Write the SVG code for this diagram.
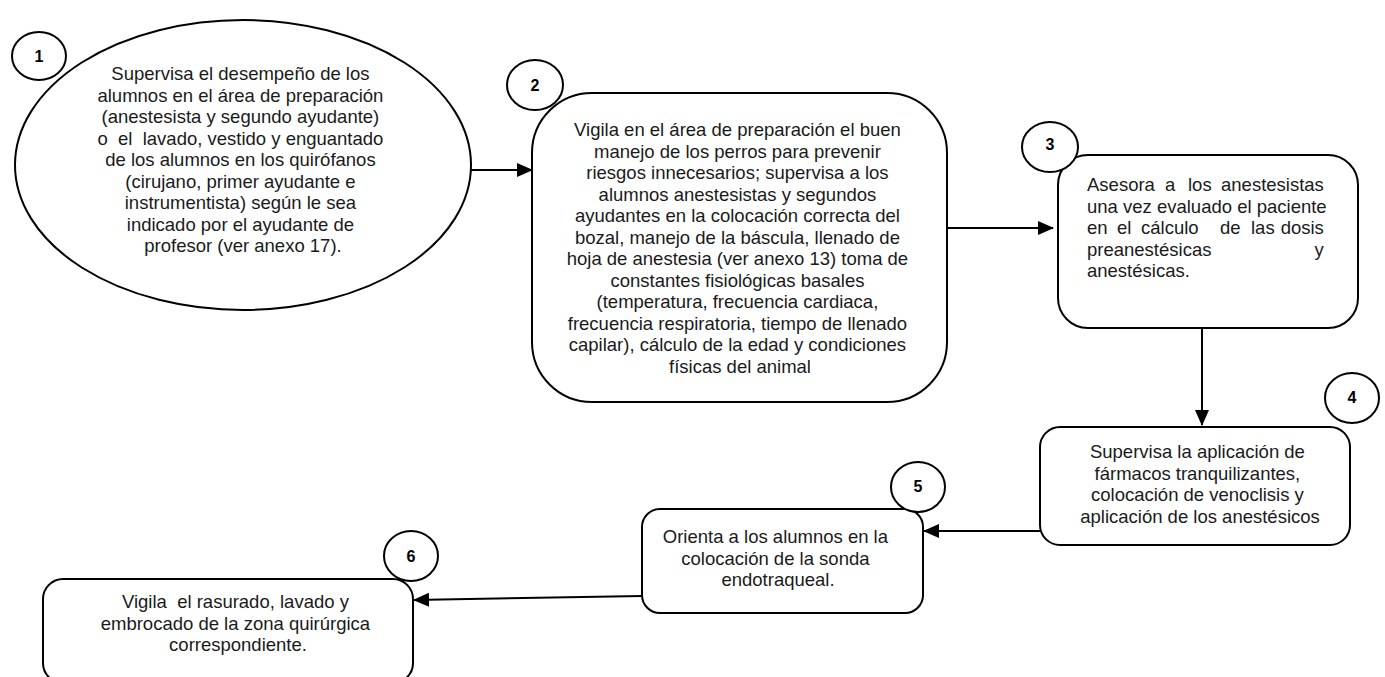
<svg xmlns="http://www.w3.org/2000/svg" width="1385" height="677" viewBox="0 0 1385 677">
<style>
.shape{fill:#fff;stroke:#000;stroke-width:2}
.t{font-family:"Liberation Sans",Arial,sans-serif;font-size:18.5px;fill:#1a1a1a}
.c{text-anchor:middle}
.num{font-family:"Liberation Sans",Arial,sans-serif;font-size:16px;font-weight:bold;text-anchor:middle;fill:#000}
.conn{fill:none;stroke:#000;stroke-width:2}
</style>
<defs>
<marker id="ah" markerUnits="userSpaceOnUse" markerWidth="16" markerHeight="16" viewBox="0 0 16 16" refX="15" refY="8" orient="auto">
<path d="M0,1 L16,8 L0,15 Z" fill="#000"/>
</marker>
</defs>
<rect width="1385" height="677" fill="#fff"/>
<g id="connectors">
<line class="conn" x1="471" y1="170" x2="532" y2="170" marker-end="url(#ah)"/>
<line class="conn" x1="947" y1="228" x2="1053" y2="228" marker-end="url(#ah)"/>
<line class="conn" x1="1202" y1="328" x2="1202" y2="425" marker-end="url(#ah)"/>
<line class="conn" x1="1040" y1="531" x2="924" y2="531" marker-end="url(#ah)"/>
<line class="conn" x1="642" y1="596" x2="414" y2="600" marker-end="url(#ah)"/>
</g>
<g id="node1">
<ellipse class="shape" cx="243" cy="165" rx="228" ry="145"/>
<ellipse class="shape" cx="39" cy="56" rx="27" ry="24"/>
<text class="num" x="39" y="62">1</text>
<text class="t c">
<tspan x="243" y="80">Supervisa el desempeño de los</tspan>
<tspan x="243" y="101.5">alumnos en el área de preparación</tspan>
<tspan x="243" y="123">(anestesista y segundo ayudante)</tspan>
<tspan x="243" y="144.5">o &#160;el &#160;lavado, vestido y enguantado</tspan>
<tspan x="243" y="166">de los alumnos en los quirófanos</tspan>
<tspan x="243" y="187.5">(cirujano, primer ayudante e</tspan>
<tspan x="243" y="209">instrumentista) según le sea</tspan>
<tspan x="243" y="230.5">indicado por el ayudante de</tspan>
<tspan x="243" y="252">profesor (ver anexo 17).</tspan>
</text>
</g>
<g id="node2">
<rect class="shape" x="532" y="93" width="415" height="309" rx="60" ry="60"/>
<ellipse class="shape" cx="535" cy="85" rx="28" ry="25"/>
<text class="num" x="535" y="91">2</text>
<text class="t c">
<tspan x="740" y="136">Vigila en el área de preparación el buen</tspan>
<tspan x="740" y="157.5">manejo de los perros para prevenir</tspan>
<tspan x="740" y="179">riesgos innecesarios; supervisa a los</tspan>
<tspan x="740" y="200.5">alumnos anestesistas y segundos</tspan>
<tspan x="740" y="222">ayudantes en la colocación correcta del</tspan>
<tspan x="740" y="243.5">bozal, manejo de la báscula, llenado de</tspan>
<tspan x="740" y="265">hoja de anestesia (ver anexo 13) toma de</tspan>
<tspan x="740" y="286.5">constantes fisiológicas basales</tspan>
<tspan x="740" y="308">(temperatura, frecuencia cardiaca,</tspan>
<tspan x="740" y="329.5">frecuencia respiratoria, tiempo de llenado</tspan>
<tspan x="740" y="351">capilar), cálculo de la edad y condiciones</tspan>
<tspan x="740" y="372.5">físicas del animal</tspan>
</text>
</g>
<g id="node3">
<rect class="shape" x="1058" y="155" width="300" height="173" rx="30" ry="30"/>
<ellipse class="shape" cx="1050" cy="147" rx="28" ry="25"/>
<text class="num" x="1050" y="150">3</text>
<text class="t">
<tspan x="1087" y="191">Asesora</tspan><tspan x="1165" y="191">a</tspan><tspan x="1188" y="191">los</tspan><tspan x="1329" y="191" text-anchor="end">anestesistas</tspan>
<tspan x="1087" y="212.5">una vez evaluado el paciente</tspan>
<tspan x="1087" y="234">en</tspan><tspan x="1117" y="234">el</tspan><tspan x="1141" y="234">cálculo</tspan><tspan x="1220" y="234">de</tspan><tspan x="1251" y="234">las</tspan><tspan x="1329" y="234" text-anchor="end">dosis</tspan>
<tspan x="1087" y="255.5">preanestésicas</tspan><tspan x="1329" y="255.5" text-anchor="end">y</tspan>
<tspan x="1087" y="277">anestésicas.</tspan>
</text>
</g>
<g id="node4">
<rect class="shape" x="1040" y="427" width="310" height="118" rx="20" ry="20"/>
<ellipse class="shape" cx="1352" cy="398" rx="27" ry="25"/>
<text class="num" x="1352" y="403">4</text>
<text class="t c">
<tspan x="1200" y="458">Supervisa la aplicación de</tspan>
<tspan x="1200" y="479.5">fármacos tranquilizantes,</tspan>
<tspan x="1200" y="501">colocación de venoclisis y</tspan>
<tspan x="1200" y="522.5">aplicación de los anestésicos</tspan>
</text>
</g>
<g id="node5">
<rect class="shape" x="642" y="509" width="281" height="104" rx="18" ry="18"/>
<ellipse class="shape" cx="918" cy="487" rx="27" ry="25"/>
<text class="num" x="918" y="492">5</text>
<text class="t c">
<tspan x="778" y="543">Orienta a los alumnos en la</tspan>
<tspan x="778" y="564.5">colocación de la sonda</tspan>
<tspan x="778" y="586">endotraqueal.</tspan>
</text>
</g>
<g id="node6">
<rect class="shape" x="43" y="579" width="370" height="104" rx="20" ry="20"/>
<ellipse class="shape" cx="411" cy="556" rx="27" ry="25"/>
<text class="num" x="411" y="562">6</text>
<text class="t c">
<tspan x="238" y="608">Vigila &#160;el rasurado, lavado y</tspan>
<tspan x="238" y="629.5">embrocado de la zona quirúrgica</tspan>
<tspan x="238" y="651">correspondiente.</tspan>
</text>
</g>
</svg>
